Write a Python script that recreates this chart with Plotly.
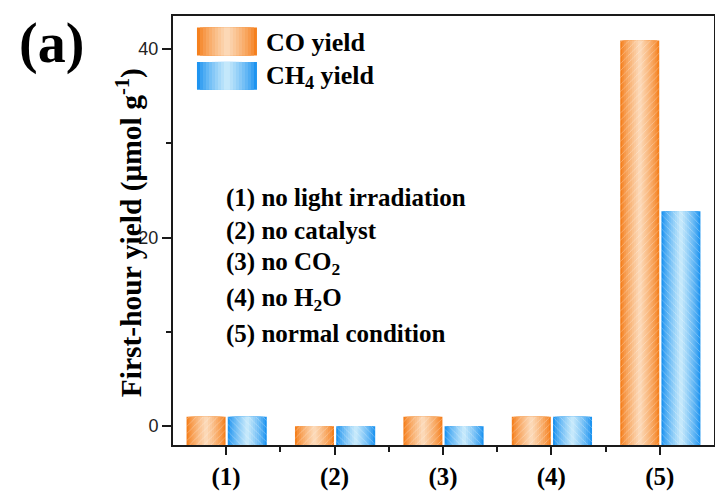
import numpy as np
import plotly.graph_objects as go

# ---------------- data ----------------
categories = ["(1)", "(2)", "(3)", "(4)", "(5)"]
co_yield = [1.0, 0.0, 1.0, 1.0, 40.9]
ch4_yield = [1.0, 0.0, 0.0, 1.0, 22.8]
series_names = ["CO yield", "CH<sub>4</sub> yield"]
condition_notes = [
    "(1) no light irradiation",
    "(2) no catalyst",
    "(3) no CO<sub>2</sub>",
    "(4) no H<sub>2</sub>O",
    "(5) normal condition",
]
y_ticks = [0, 20, 40]

# ---------------- styling ----------------
Y_MIN, Y_MAX = -2.0, 43.5
X_MIN, X_MAX = 0.51, 5.5
SERIF = "Liberation Serif"
SANS = "Liberation Sans"
BAR_W = 0.36
BAR_LEFT = [-0.365, 0.015]
EDGE = [(245, 128, 30), (30, 148, 240)]
CENTER = [(252, 216, 182), (196, 232, 251)]
PATTERN = ["/", "\\"]
N_LAYERS = 10

def mix(c1, c2, t):
    return "rgb(%d,%d,%d)" % tuple(round(a + (b - a) * t) for a, b in zip(c1, c2))

x = np.arange(1, len(categories) + 1)
fig = go.Figure()

for s, vals in enumerate([co_yield, ch4_yield]):
    heights = [v - Y_MIN for v in vals]
    for k in range(N_LAYERS):
        frac = 1 - k / N_LAYERS
        w = BAR_W * frac
        off = BAR_LEFT[s] + (BAR_W - w) / 2
        t = (k / (N_LAYERS - 1)) ** 0.8
        fig.add_trace(go.Bar(
            x=x, y=heights, base=Y_MIN, width=w, offset=off,
            marker=dict(color=mix(EDGE[s], CENTER[s], t), line=dict(width=0)),
            showlegend=False, hoverinfo="skip",
        ))
    # hatch overlay
    fig.add_trace(go.Bar(
        x=x, y=heights, base=Y_MIN, width=BAR_W, offset=BAR_LEFT[s],
        marker=dict(color="rgba(0,0,0,0)", line=dict(width=0),
                    pattern=dict(shape=PATTERN[s], fgcolor="white", fgopacity=0.35,
                                 size=5, solidity=0.15, fillmode="overlay")),
        name=series_names[s], showlegend=False,
    ))

# ---------------- custom legend ----------------
shapes = []
annotations = []
sw_x0, sw_x1 = 0.0443, 0.1552
sw_rows = [(0.908, 0.973), (0.828, 0.893)]
for s, (y0, y1) in enumerate(sw_rows):
    for k in range(N_LAYERS):
        frac = 1 - k / N_LAYERS
        w = (sw_x1 - sw_x0) * frac
        xa = sw_x0 + ((sw_x1 - sw_x0) - w) / 2
        t = (k / (N_LAYERS - 1)) ** 0.8
        shapes.append(dict(type="rect", xref="paper", yref="paper",
                           x0=xa, x1=xa + w, y0=y0, y1=y1,
                           fillcolor=mix(EDGE[s], CENTER[s], t), line=dict(width=0),
                           layer="above"))
    annotations.append(dict(xref="paper", yref="paper", x=0.168, y=(y0 + y1) / 2 - 0.003,
                            xanchor="left", yanchor="middle", showarrow=False,
                            text="<b>%s</b>" % series_names[s],
                            font=dict(family=SERIF, size=26, color="black")))

# ---------------- condition notes ----------------
note_y = [0.5765, 0.4995, 0.423, 0.338, 0.259]
for txt, yy in zip(condition_notes, note_y):
    annotations.append(dict(xref="paper", yref="paper", x=0.095, y=yy,
                            xanchor="left", yanchor="middle", showarrow=False,
                            text="<b>%s</b>" % txt,
                            font=dict(family=SERIF, size=25, color="black")))

# y-axis title
annotations.append(dict(xref="paper", yref="paper", x=-0.081, y=0.494,
                        xanchor="center", yanchor="middle", showarrow=False, textangle=-90,
                        text="<b>First-hour yield (μmol g<sup>-1</sup>)</b>",
                        font=dict(family=SERIF, size=29.5, color="black")))
# panel label
annotations.append(dict(xref="paper", yref="paper", x=-0.225, y=0.9355,
                        xanchor="center", yanchor="middle", showarrow=False,
                        text="<b>(a)</b>",
                        font=dict(family=SERIF, size=56, color="black")))

AX = "#1a1a1a"
# page body has an 8px margin, so the figure is drawn 8px smaller and offset
fig.update_layout(
    width=715, height=489,
    margin=dict(l=165, r=9, t=6, b=46),
    paper_bgcolor="white", plot_bgcolor="white",
    barmode="overlay",
    shapes=shapes, annotations=annotations,
    xaxis=dict(range=[X_MIN, X_MAX], tickvals=list(x), ticktext=["<b>%s</b>" % c for c in categories],
               tickfont=dict(family=SERIF, size=25, color="black"),
               showgrid=False, zeroline=False, showline=True, linecolor=AX, linewidth=2,
               mirror=True, ticks="outside", ticklen=8, tickwidth=2, tickcolor=AX,
               minor=dict(tickvals=[1.5, 2.5, 3.5, 4.5], ticks="outside", ticklen=5,
                          tickwidth=2, tickcolor=AX)),
    yaxis=dict(range=[Y_MIN, Y_MAX], tickvals=y_ticks,
               tickfont=dict(family=SANS, size=18, color="#222"),
               showgrid=False, zeroline=False, showline=True, linecolor=AX, linewidth=2,
               mirror=True, ticks="outside", ticklen=9, tickwidth=2, tickcolor=AX,
               minor=dict(dtick=10, tick0=0, ticks="outside", ticklen=5, tickwidth=2,
                          tickcolor=AX)),
)

fig.write_html("out.html")
